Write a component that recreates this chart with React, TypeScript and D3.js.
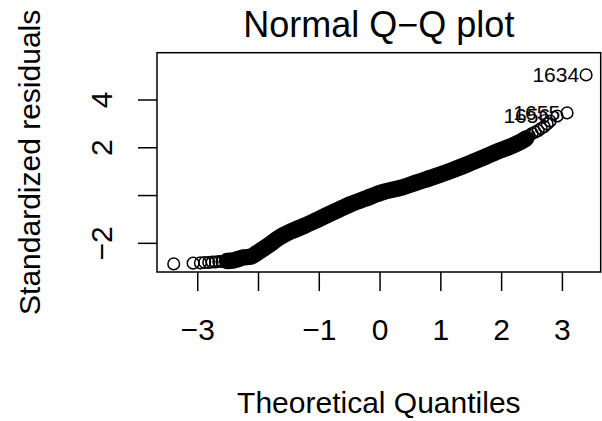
import React from "react";
import { scaleLinear, line, curveMonotoneX } from "d3";

// theoretical quantiles (x) and standardized residuals (y)
const tailLowX = [-3.395, -3.076, -2.956, -2.885, -2.819, -2.763, -2.709, -2.654, -2.6];
const tailLowY = [-2.86, -2.83, -2.82, -2.8, -2.8, -2.78, -2.78, -2.76, -2.76];

const bandX = [-2.517, -2.408, -2.244, -2.134, -2.024, -1.915, -1.805, -1.695, -1.586, -1.476, -1.258, -1.037, -0.764, -0.49, -0.215, 0.058, 0.332, 0.607, 0.88, 1.154, 1.429, 1.701, 1.976, 2.14, 2.305, 2.403];
const bandY = [-2.74, -2.71, -2.59, -2.56, -2.4, -2.22, -2.03, -1.82, -1.65, -1.51, -1.28, -1.02, -0.69, -0.37, -0.1, 0.15, 0.32, 0.55, 0.78, 1.03, 1.3, 1.59, 1.89, 2.05, 2.24, 2.39];

const tailHighX = [2.453, 2.502, 2.551, 2.601, 2.65, 2.7, 2.749, 2.798, 2.913, 3.077, 3.39];
const tailHighY = [2.51, 2.6, 2.66, 2.72, 2.81, 2.89, 3.0, 3.12, 3.33, 3.46, 5.05];

const idLabels = ["1656", "1655", "1634"];
const idX = [2.913, 3.077, 3.39];
const idY = [3.33, 3.46, 5.05];

const xTicks = [-3, -2, -1, 0, 1, 2, 3];
const xTickLabels = ["\u22123", "", "\u22121", "0", "1", "2", "3"];
const yTicks = [-2, 0, 2, 4];
const yTickLabels = ["\u22122", "", "2", "4"];

const W = 602;
const H = 421;
const box = { left: 157, right: 600.7, top: 52.7, bottom: 272 };
const font = "'Liberation Sans', Arial, Helvetica, sans-serif";

const App = () => {
  const x = scaleLinear().domain([-3.67, 3.63]).range([box.left, box.right]);
  const y = scaleLinear().domain([-3.2, 5.98]).range([box.bottom, box.top]);

  const toPts = (xs: number[], ys: number[]) => xs.map((v, i) => [v, ys[i]] as [number, number]);
  const band = toPts(bandX, bandY);
  const all = [...toPts(tailLowX, tailLowY), ...band, ...toPts(tailHighX, tailHighY)];

  const bandPath = line<[number, number]>()
    .x((d) => x(d[0]))
    .y((d) => y(d[1]))
    .curve(curveMonotoneX)(band) || "";

  const cx = (box.left + box.right) / 2;
  const cy = (box.top + box.bottom) / 2;

  return (
    <svg width={W} height={H} style={{ position: "absolute", left: 0, top: 0, background: "#fff" }} fontFamily={font}>
      <rect x={0} y={0} width={W} height={H} fill="#fff" />

      {/* dense middle of the sample drawn as a thick band */}
      <path d={bandPath} fill="none" stroke="#000" strokeWidth={16.5} strokeLinecap="round" strokeLinejoin="round" />
      {all.map((d, i) => (
        <circle key={i} cx={x(d[0])} cy={y(d[1])} r={5.8} fill="none" stroke="#000" strokeWidth={1.5} />
      ))}

      {idLabels.map((t, i) => (
        <text key={t + i} x={x(idX[i]) - 7} y={y(idY[i])} dy="0.35em" textAnchor="end" fontSize={21} fill="#000">
          {t}
        </text>
      ))}

      <rect x={box.left} y={box.top} width={box.right - box.left} height={box.bottom - box.top} fill="none" stroke="#000" strokeWidth={1.5} />

      {/* x axis */}
      {xTicks.map((t, i) => (
        <g key={"x" + t}>
          <line x1={x(t)} x2={x(t)} y1={box.bottom} y2={box.bottom + 19} stroke="#000" strokeWidth={1.5} />
          <text x={x(t)} y={339.5} textAnchor="middle" fontSize={30} fill="#000">
            {xTickLabels[i]}
          </text>
        </g>
      ))}

      {/* y axis */}
      {yTicks.map((t, i) => (
        <g key={"y" + t}>
          <line x1={box.left - 19} x2={box.left} y1={y(t)} y2={y(t)} stroke="#000" strokeWidth={1.5} />
          <text transform={`translate(112,${y(t)}) rotate(-90)`} textAnchor="middle" fontSize={30} fill="#000">
            {yTickLabels[i]}
          </text>
        </g>
      ))}

      <text x={cx} y={37} textAnchor="middle" fontSize={36} fill="#000">
        Normal Q{"\u2212"}Q plot
      </text>
      <text x={cx} y={413} textAnchor="middle" fontSize={30} fill="#000">
        Theoretical Quantiles
      </text>
      <text transform={`translate(40,${cy}) rotate(-90)`} textAnchor="middle" fontSize={30} fill="#000">
        Standardized residuals
      </text>
    </svg>
  );
};

export default App;
